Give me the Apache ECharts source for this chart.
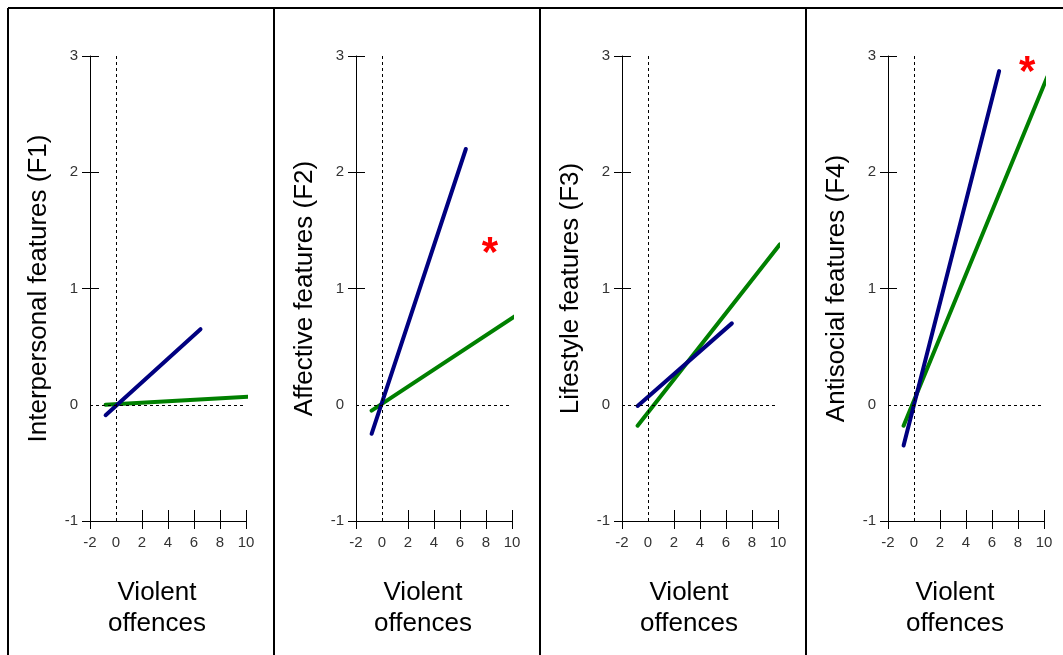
<!DOCTYPE html>
<html>
<head>
<meta charset="utf-8">
<script src="https://cdn.jsdelivr.net/npm/echarts@6/dist/echarts.min.js"></script>
<style>
html,body{margin:0;padding:0;background:#fff;}
#chart{width:1063px;height:655px;}
</style>
</head>
<body>
<div id="chart"></div>
<script>
// ---- data ----
const panelTitles = ['Interpersonal features (F1)', 'Affective features (F2)', 'Lifestyle features (F3)', 'Antisocial features (F4)'];
const xTitle = 'Violent\noffences';
const xTickValues = [-2, 0, 2, 4, 6, 8, 10];
const yTickValues = [-1, 0, 1, 2, 3];
const xTickMarks = [-2, 2, 4, 6, 8, 10];
const yTickMarks = [-1, 1, 2, 3];

const blueF1  = [[-0.8, -0.09], [6.5, 0.65]];
const greenF1 = [[-0.8, 0.00], [10.3, 0.07]];
const blueF2  = [[-0.8, -0.25], [6.45, 2.20]];
const greenF2 = [[-0.8, -0.05], [10.2, 0.76]];
const blueF3  = [[-0.8, -0.01], [6.45, 0.70]];
const greenF3 = [[-0.8, -0.18], [10.15, 1.38]];
const blueF4  = [[-0.8, -0.35], [6.55, 2.87]];
const greenF4 = [[-0.8, -0.18], [10.25, 2.82]];
const blueSeries = [blueF1, blueF2, blueF3, blueF4];
const greenSeries = [greenF1, greenF2, greenF3, greenF4];
const starPoints = [null, [8.3, 1.38], null, [8.7, 2.94]];

// ---- layout ----
const panelW = 266, panelX0 = 8;
const gridLeftInPanel = 82, gridW = 156, gridTop = 56, gridH = 465;
const FONT = 'Liberation Sans, Arial, sans-serif';

const grid = [], xAxis = [], yAxis = [], series = [], title = [], graphic = [];
for (let i = 0; i < 4; i++) {
  const px = panelX0 + panelW * i;
  grid.push({left: px + gridLeftInPanel, top: gridTop, width: gridW, height: gridH, containLabel: false});
  const xMainIdx = xAxis.length;
  xAxis.push({
    gridIndex: i, type: 'value', min: -2, max: 10, interval: 2, position: 'bottom',
    axisLine: {show: true, onZero: false, lineStyle: {color: '#000', width: 1}},
    axisTick: {show: true, inside: false, length: 8, customValues: xTickMarks, lineStyle: {color: '#000', width: 1}},
    axisLabel: {show: true, margin: 14, fontSize: 15, color: '#333', fontFamily: FONT, customValues: xTickValues},
    splitLine: {show: false}
  });
  xAxis.push({
    gridIndex: i, type: 'value', min: -2, max: 10, interval: 2, position: 'bottom',
    axisLine: {show: false, onZero: false},
    axisTick: {show: true, inside: true, length: 11, customValues: xTickMarks, lineStyle: {color: '#000', width: 1}},
    axisLabel: {show: false}, splitLine: {show: false}
  });
  const yMainIdx = yAxis.length;
  yAxis.push({
    gridIndex: i, type: 'value', min: -1, max: 3, interval: 1, position: 'left',
    name: panelTitles[i], nameLocation: 'middle', nameRotate: 90, nameGap: 38,
    nameTextStyle: {fontSize: 26, color: '#000', fontFamily: FONT},
    axisLine: {show: true, onZero: false, lineStyle: {color: '#000', width: 1}},
    axisTick: {show: true, inside: false, length: 8, customValues: yTickMarks, lineStyle: {color: '#000', width: 1}},
    axisLabel: {show: true, margin: 12, fontSize: 15, color: '#333', fontFamily: FONT, customValues: yTickValues},
    splitLine: {show: false}
  });
  yAxis.push({
    gridIndex: i, type: 'value', min: -1, max: 3, interval: 1, position: 'left',
    axisLine: {show: false, onZero: false},
    axisTick: {show: true, inside: true, length: 9, customValues: yTickMarks, lineStyle: {color: '#000', width: 1}},
    axisLabel: {show: false}, splitLine: {show: false}
  });
  series.push({
    type: 'line', xAxisIndex: xMainIdx, yAxisIndex: yMainIdx, data: greenSeries[i],
    symbol: 'none', lineStyle: {color: '#008000', width: 4, cap: 'round'}, z: 3, silent: true,
    markLine: {
      silent: true, symbol: 'none', label: {show: false},
      lineStyle: {color: '#000', width: 1, type: [3, 3]},
      data: [{xAxis: 0}, {yAxis: 0}]
    }
  });
  series.push({
    type: 'line', xAxisIndex: xMainIdx, yAxisIndex: yMainIdx, data: blueSeries[i],
    symbol: 'none', lineStyle: {color: '#000080', width: 4, cap: 'round'}, z: 4, silent: true
  });
  if (starPoints[i]) {
    series.push({
      type: 'scatter', xAxisIndex: xMainIdx, yAxisIndex: yMainIdx, data: [starPoints[i]],
      symbolSize: 1, itemStyle: {opacity: 0}, silent: true,
      label: {show: true, position: 'inside', formatter: '*', color: '#ff0000', fontSize: 42, fontWeight: 'bold',
        fontFamily: FONT, offset: [0, 10], opacity: 1}
    });
  }
  title.push({
    text: xTitle, left: px + 144, top: 572, textAlign: 'center',
    textStyle: {fontSize: 26, fontWeight: 'normal', color: '#000', fontFamily: FONT, lineHeight: 31}
  });
  if (i > 0) {
    graphic.push({type: 'line', shape: {x1: px, y1: 8, x2: px, y2: 655}, style: {stroke: '#000', lineWidth: 2}, z: 10});
  }
}
graphic.push({type: 'line', shape: {x1: 8, y1: 8, x2: 1063, y2: 8}, style: {stroke: '#000', lineWidth: 2}, z: 10});
graphic.push({type: 'line', shape: {x1: 8, y1: 8, x2: 8, y2: 655}, style: {stroke: '#000', lineWidth: 2}, z: 10});

const chart = echarts.init(document.getElementById('chart'), null, {renderer: 'canvas'});
chart.setOption({
  backgroundColor: '#fff', animation: false,
  grid, xAxis, yAxis, series, title, graphic
});
</script>
</body>
</html>
